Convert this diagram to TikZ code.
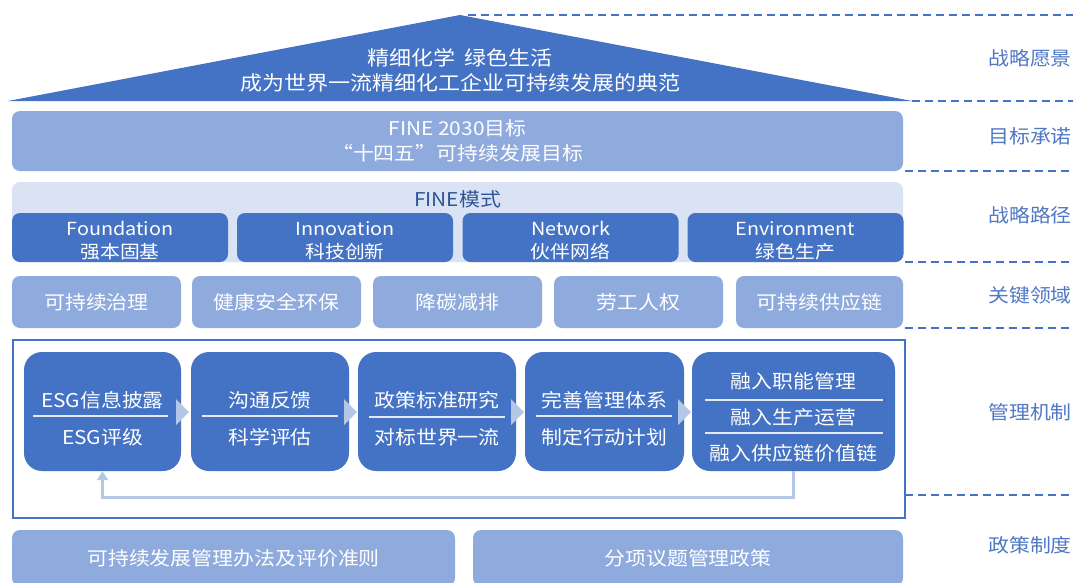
\documentclass[tikz,border=0pt]{standalone}
\usepackage{fontspec}
\setmainfont{Noto Sans CJK SC}[FakeStretch=1.1]
\usetikzlibrary{arrows.meta}
\definecolor{dblue}{HTML}{4472C4}
\definecolor{mblue}{HTML}{8FAADC}
\definecolor{lblue}{HTML}{DAE3F3}
\definecolor{pblue}{HTML}{B4C7E7}
\definecolor{tblue}{HTML}{2F5597}
\definecolor{gblue}{HTML}{5078C4}
\begin{document}
\begin{tikzpicture}[x=1pt,y=-1pt,
  txt/.style={font=\fontsize{19}{25}\selectfont, align=center, inner sep=0pt},
  bar/.style={txt, rounded corners=8pt, text=white},
  midbar/.style={bar, fill=mblue},
  finebox/.style={bar, fill=dblue, minimum width=216pt, minimum height=49pt},
  finetext/.style={txt, text=white, font=\fontsize{18}{23}\selectfont},
  keybox/.style={midbar, minimum width=169pt, minimum height=52pt},
  procbox/.style={rounded corners=18pt, fill=dblue, minimum width=#1, minimum height=119pt, inner sep=0pt},
  ptext/.style={txt, text=white},
  sepline/.style={draw=white!85!dblue, line width=1.2pt},
  guide/.style={draw=dblue, line width=2.4pt, dash pattern=on 8pt off 5pt},
  sidelabel/.style={txt, text=gblue},
  flowtip/.style={fill=pblue},
  feedback/.style={draw=pblue, line width=3pt, -{Triangle[width=11pt,length=9pt]}}
]
\fill[white] (0,0) rectangle (1073,582);
\useasboundingbox (0,0) rectangle (1073,582);

% roof
\fill[dblue] (460,15) -- (8,101) -- (912,101) -- cycle;
\node[ptext, font=\fontsize{20}{25}\selectfont] (vision) at (460,70) {精细化学\ \ 绿色生活\\成为世界一流精细化工企业可持续发展的典范};

% goals
\node[midbar, minimum width=891pt, minimum height=60pt] (goal) at (457.5,141)
  {FINE 2030目标\\“十四五”可持续发展目标};

% FINE model
\node[bar, fill=lblue, minimum width=891pt, minimum height=80pt] (model) at (457.5,222) {};
\node[txt, text=tblue] (modeltitle) at (457.5,199) {FINE模式};
\node[finebox] (f1) at (120,237.5) {};
\node[finebox] (f2) at (345,237.5) {};
\node[finebox] (f3) at (570.5,237.5) {};
\node[finebox] (f4) at (795.5,237.5) {};
\node[finetext] (f1t) at (120,240.5) {Foundation\\强本固基};
\node[finetext] (f2t) at (345,240.5) {Innovation\\科技创新};
\node[finetext] (f3t) at (570.5,240.5) {Network\\伙伴网络};
\node[finetext] (f4t) at (795.5,240.5) {Environment\\绿色生产};

% key areas
\node[keybox] (k1) at (96.5,302) {可持续治理};
\node[keybox] (k2) at (276.5,302) {健康安全环保};
\node[keybox] (k3) at (457.5,302) {降碳减排};
\node[keybox] (k4) at (638.5,302) {劳工人权};
\node[keybox, minimum width=167pt] (k5) at (819.5,302) {可持续供应链};

% management frame
\draw[dblue, line width=1.5pt] (13,340) rectangle (905,518);

\node[procbox=157pt] (p1) at (102.5,411.5) {};
\node[procbox=158pt] (p2) at (270,411.5) {};
\node[procbox=158pt] (p3) at (437,411.5) {};
\node[procbox=159pt] (p4) at (604.5,411.5) {};
\node[procbox=203pt] (p5) at (793.5,411.5) {};

% flow tips
\fill[flowtip] (176,399) -- (189,412) -- (176,425) -- cycle;
\fill[flowtip] (344,399) -- (357,412) -- (344,425) -- cycle;
\fill[flowtip] (511,399) -- (524,412) -- (511,425) -- cycle;
\fill[flowtip] (678,399) -- (691,412) -- (678,425) -- cycle;

% texts
\node[ptext] (p1a) at (102.5,400) {ESG信息披露};
\node[ptext] (p1b) at (102.5,437) {ESG评级};
\draw[sepline] (33,416) -- (168,416);
\node[ptext] (p2a) at (270,400) {沟通反馈};
\node[ptext] (p2b) at (270,437) {科学评估};
\draw[sepline] (202,416) -- (338,416);
\node[ptext] (p3a) at (437,400) {政策标准研究};
\node[ptext] (p3b) at (437,437) {对标世界一流};
\draw[sepline] (369,417) -- (505,417);
\node[ptext] (p4a) at (604.5,400) {完善管理体系};
\node[ptext] (p4b) at (604.5,437) {制定行动计划};
\draw[sepline] (536,416) -- (672,416);
\node[ptext] (p5a) at (793.5,381) {融入职能管理};
\node[ptext] (p5b) at (793.5,417) {融入生产运营};
\node[ptext] (p5c) at (793.5,453) {融入供应链价值链};
\draw[sepline] (705,400) -- (883,400);
\draw[sepline] (705,433) -- (883,433);

% feedback loop
\draw[feedback] (p5.south) -- ++(0,26) -| (p1.south);

% policies
\node[midbar, minimum width=443pt, minimum height=56pt] (pol1) at (233.5,558) {可持续发展管理办法及评价准则};
\node[midbar, minimum width=430pt, minimum height=56pt] (pol2) at (688,558) {分项议题管理政策};

% guides
\draw[guide] (468,15) -- (1073,15);
\draw[guide] (912,101) -- (1073,101);
\draw[guide] (905,171) -- (1073,171);
\draw[guide] (905,262) -- (1073,262);
\draw[guide] (905,328) -- (1073,328);
\draw[guide] (905,495) -- (1073,495);

% side labels
\node[sidelabel] (l1) at (1030,58) {战略愿景};
\node[sidelabel] (l2) at (1030,136) {目标承诺};
\node[sidelabel] (l3) at (1030,215) {战略路径};
\node[sidelabel] (l4) at (1030,295) {关键领域};
\node[sidelabel] (l5) at (1030,412) {管理机制};
\node[sidelabel] (l6) at (1030,545) {政策制度};
\end{tikzpicture}
\end{document}
